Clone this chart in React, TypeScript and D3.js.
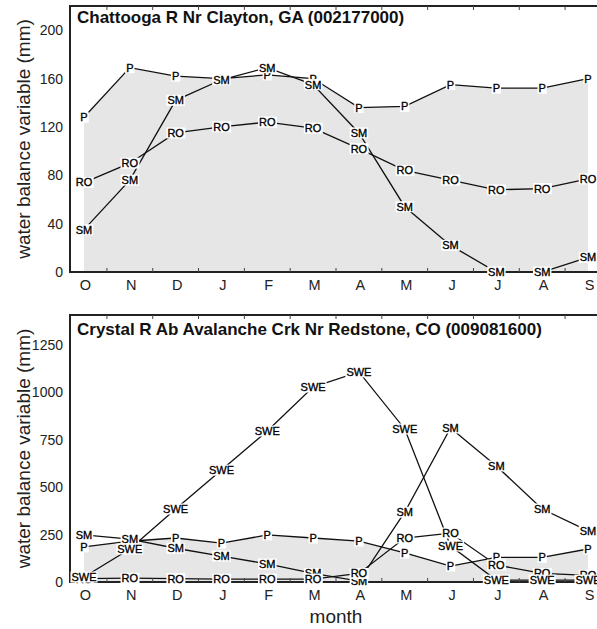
import React, { useEffect, useRef } from 'react';
import * as d3 from 'd3';

const months = ['O', 'N', 'D', 'J', 'F', 'M', 'A', 'M', 'J', 'J', 'A', 'S'];

const topTitle = 'Chattooga R Nr Clayton, GA (002177000)';
const topP = [128, 169, 162, 160, 163, 160, 136, 137, 155, 152, 152, 160];
const topSM = [35, 76, 142, 159, 169, 155, 115, 54, 22, 0, 0, 12];
const topRO = [74, 90, 115, 120, 124, 119, 102, 84, 76, 68, 69, 77];
const topTicks = [0, 40, 80, 120, 160, 200];

const botTitle = 'Crystal R Ab Avalanche Crk Nr Redstone, CO (009081600)';
const botP = [185, 215, 232, 205, 248, 232, 216, 153, 84, 130, 130, 174];
const botSM = [248, 226, 178, 137, 95, 45, 5, 368, 812, 612, 385, 270];
const botRO = [18, 20, 18, 15, 15, 15, 45, 232, 258, 90, 45, 35];
const botSWE = [26, 174, 385, 590, 796, 1028, 1108, 807, 190, 10, 10, 10];
const botTicks = [0, 250, 500, 750, 1000, 1250];

const W = 597;
const H = 629;
const FONT = 'Liberation Sans, Arial, Helvetica, sans-serif';

type Series = { name: string; values: number[] };

type Panel = {
  title: string;
  top: number;
  bottom: number;
  ymax: number;
  ticks: number[];
  precip: number[];
  series: Series[];
  monthY: number;
  titleY: number;
};

const panels: Panel[] = [
  {
    title: topTitle,
    top: 6,
    bottom: 272,
    ymax: 220,
    ticks: topTicks,
    precip: topP,
    series: [
      { name: 'P', values: topP },
      { name: 'SM', values: topSM },
      { name: 'RO', values: topRO },
    ],
    monthY: 290,
    titleY: 22.5,
  },
  {
    title: botTitle,
    top: 315,
    bottom: 582,
    ymax: 1408,
    ticks: botTicks,
    precip: botP,
    series: [
      { name: 'P', values: botP },
      { name: 'SM', values: botSM },
      { name: 'RO', values: botRO },
      { name: 'SWE', values: botSWE },
    ],
    monthY: 600,
    titleY: 335,
  },
];

export default function App() {
  const ref = useRef<SVGSVGElement | null>(null);

  useEffect(() => {
    const svg = d3.select(ref.current);
    svg.selectAll('*').remove();

    const frameL = 70;
    const frameR = 602;
    const idx = d3.range(months.length);
    const x = d3.scalePoint<number>().domain(idx).range([84, 588]);
    const step = x.step();

    svg.append('rect').attr('width', W).attr('height', H).attr('fill', '#fff');

    panels.forEach((p) => {
      const y = d3.scaleLinear().domain([0, p.ymax]).range([p.bottom, p.top]);
      const g = svg.append('g');

      const area = d3
        .area<number>()
        .x((_, i) => x(i) as number)
        .y0(y(0))
        .y1((d) => y(d));
      g.append('path').attr('d', area(p.precip) as string).attr('fill', '#e6e6e6');

      const line = d3
        .line<number>()
        .x((_, i) => x(i) as number)
        .y((d) => y(d));
      p.series.forEach((s) => {
        g.append('path')
          .attr('d', line(s.values) as string)
          .attr('fill', 'none')
          .attr('stroke', '#111')
          .attr('stroke-width', 1.3);
      });

      g.append('rect')
        .attr('x', frameL)
        .attr('y', p.top)
        .attr('width', frameR - frameL)
        .attr('height', p.bottom - p.top)
        .attr('fill', 'none')
        .attr('stroke', '#222')
        .attr('stroke-width', 2);

      idx.slice(0, -1).forEach((i) => {
        const tx = (x(i) as number) + step / 2;
        g.append('line')
          .attr('x1', tx).attr('x2', tx)
          .attr('y1', p.bottom).attr('y2', p.bottom - 4)
          .attr('stroke', '#444').attr('stroke-width', 1);
        g.append('line')
          .attr('x1', tx).attr('x2', tx)
          .attr('y1', p.top).attr('y2', p.top + 4)
          .attr('stroke', '#444').attr('stroke-width', 1);
      });

      p.ticks.forEach((t) => {
        g.append('text')
          .attr('x', 63)
          .attr('y', y(t))
          .attr('dy', '0.36em')
          .attr('text-anchor', 'end')
          .attr('font-family', FONT)
          .attr('font-size', 14)
          .attr('fill', '#222')
          .text(String(t));
      });

      months.forEach((m, i) => {
        g.append('text')
          .attr('x', (x(i) as number) + 1.5)
          .attr('y', p.monthY)
          .attr('text-anchor', 'middle')
          .attr('font-family', FONT)
          .attr('font-size', 14.5)
          .attr('fill', '#222')
          .text(m);
      });

      g.append('text')
        .attr('transform', `translate(29.5,${(p.top + p.bottom) / 2}) rotate(-90)`)
        .attr('text-anchor', 'middle')
        .attr('font-family', FONT)
        .attr('font-size', 19)
        .attr('fill', '#222')
        .text('water balance variable (mm)');

      g.append('text')
        .attr('x', 77)
        .attr('y', p.titleY)
        .attr('font-family', FONT)
        .attr('font-size', 17)
        .attr('font-weight', 'bold')
        .attr('fill', '#111')
        .text(p.title);

      p.series.forEach((s) => {
        s.values.forEach((v, i) => {
          const lg = g.append('g');
          const px = x(i) as number;
          const py = y(v);
          const txt = lg
            .append('text')
            .attr('x', px)
            .attr('y', py)
            .attr('dy', '0.36em')
            .attr('text-anchor', 'middle')
            .attr('font-family', FONT)
            .attr('font-size', 11)
            .attr('fill', '#000')
            .attr('stroke', '#000')
            .attr('stroke-width', 0.35)
            .text(s.name);
          const bb = (txt.node() as SVGTextElement).getBBox();
          lg.insert('rect', 'text')
            .attr('x', bb.x - 1)
            .attr('y', py - 5.5)
            .attr('width', bb.width + 2)
            .attr('height', 11)
            .attr('fill', '#fff');
        });
      });
    });

    svg.append('text')
      .attr('x', 336)
      .attr('y', 623)
      .attr('text-anchor', 'middle')
      .attr('font-family', FONT)
      .attr('font-size', 19)
      .attr('fill', '#222')
      .text('month');
  }, []);

  return (
    <svg
      ref={ref}
      width={W}
      height={H}
      style={{ position: 'absolute', left: 0, top: 0, display: 'block' }}
    />
  );
}
